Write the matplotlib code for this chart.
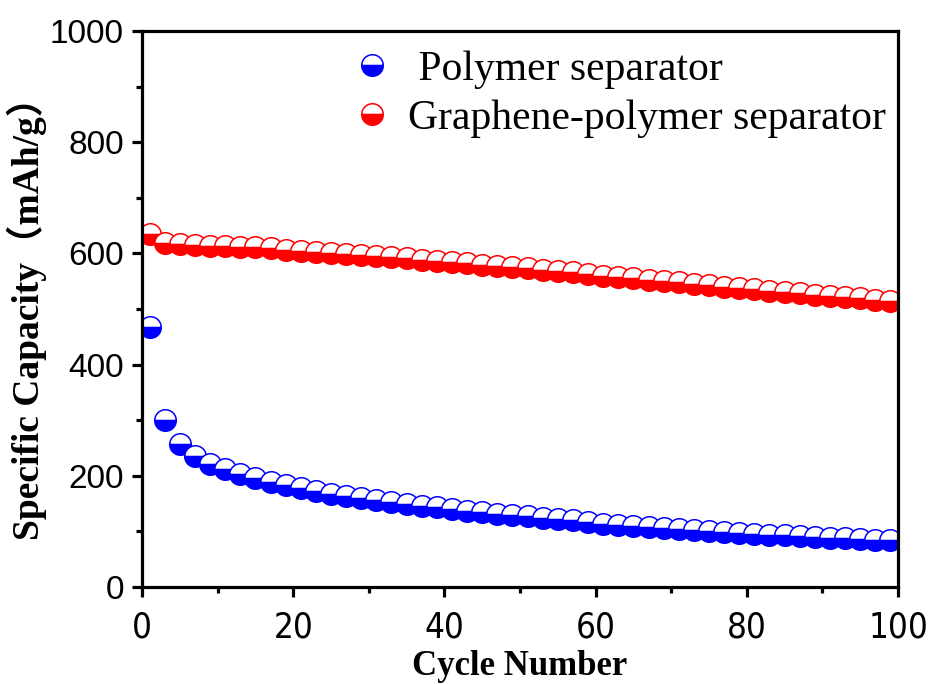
import matplotlib
matplotlib.use("Agg")
import matplotlib.pyplot as plt
from matplotlib import font_manager
from matplotlib.lines import Line2D

# Cycle numbers (every second cycle) and specific capacities in mAh/g
cycles = list(range(1, 100, 2))

polymer = [467, 300, 258, 236, 222, 212, 204, 196, 189, 183,
           178, 173, 168, 164, 160, 156, 152, 149, 146, 143,
           140, 137, 134, 132, 129, 127, 124, 122, 120, 117,
           114, 112, 110, 108, 106, 104, 102, 100, 99, 97,
           96, 94, 93, 92, 90, 89, 88, 86, 85, 84]

graphene_polymer = [634, 618, 617, 615, 614, 613, 612, 611, 609, 607,
                    605, 603, 601, 599, 598, 595, 593, 591, 589, 587,
                    585, 582, 580, 578, 575, 573, 571, 568, 566, 563,
                    560, 558, 555, 553, 550, 548, 545, 543, 540, 538,
                    536, 533, 531, 528, 526, 524, 521, 519, 517, 514]

series_labels = [" Polymer separator", "Graphene-polymer separator"]
series_colors = ["#0000ff", "#ff0000"]

x_ticks = [0, 20, 40, 60, 80, 100]
y_ticks = [0, 200, 400, 600, 800, 1000]

fonts = font_manager.fontManager.ttflist
available = {f.name for f in fonts}
serif = "Liberation Serif" if "Liberation Serif" in available else "DejaVu Serif"
sans = "Liberation Sans" if "Liberation Sans" in available else "DejaVu Sans"

# narrow face for the cycle-axis numbers
narrow_prop = None
for f in fonts:
    if f.name == "Liberation Sans Narrow" and f.weight in (400, "normal", "regular") and f.style == "normal":
        narrow_prop = font_manager.FontProperties(fname=f.fname)
        break
if narrow_prop is None:
    for f in fonts:
        if f.name == "DejaVu Sans" and f.stretch == "condensed" and f.style == "normal" \
                and f.weight in (400, "normal", "regular"):
            narrow_prop = font_manager.FontProperties(fname=f.fname)
            break
if narrow_prop is None:
    narrow_prop = font_manager.FontProperties(family=sans)

fig = plt.figure(figsize=(9.31, 6.84), dpi=100)
ax = fig.add_axes([142 / 931, 1 - 587 / 684, (898 - 142) / 931, (587 - 31) / 684])

marker_kw = dict(marker="o", linestyle="none", markersize=15.5,
                 fillstyle="bottom", markerfacecoloralt="white",
                 markeredgewidth=1.1)

for values, color in zip([polymer, graphene_polymer], series_colors):
    ax.plot(cycles, values, color=color, markerfacecolor=color,
            markeredgecolor=color, **marker_kw)

ax.set_xlim(0, 100)
ax.set_ylim(0, 1000)
ax.set_xticks(x_ticks)
ax.set_yticks(y_ticks)
ax.set_xticks(range(10, 100, 20), minor=True)
ax.set_yticks(range(100, 1000, 200), minor=True)

for s in ax.spines.values():
    s.set_linewidth(2.3)

ax.tick_params(which="both", direction="out", width=2.3, top=False, right=False)
ax.tick_params(which="major", length=7)
ax.tick_params(which="minor", length=4)
ax.tick_params(axis="x", which="major", pad=10)
ax.tick_params(axis="y", which="major", pad=6)

for lab in ax.get_xticklabels():
    lab.set_fontproperties(narrow_prop)
    lab.set_fontsize(25)
for lab in ax.get_yticklabels():
    lab.set_fontfamily(sans)
    lab.set_fontsize(24)

ax.set_xlabel("Cycle Number", fontfamily=serif, fontweight="bold",
              fontsize=25, labelpad=4)
ax.set_ylabel("Specific Capacity（mAh/g）",
              fontfamily=[serif, "Noto Sans CJK SC"], fontweight="bold",
              fontsize=27, labelpad=2)

handles = [Line2D([], [], color=c, markerfacecolor=c, markeredgecolor=c, **marker_kw)
           for c in series_colors]
ax.legend(handles, series_labels, loc="upper left",
          bbox_to_anchor=(0.238, 1.018), frameon=False,
          prop={"family": serif, "size": 30},
          handlelength=1.0, handletextpad=0.36, labelspacing=0.26,
          borderaxespad=0.3)

fig.savefig("out.png", dpi=100)
